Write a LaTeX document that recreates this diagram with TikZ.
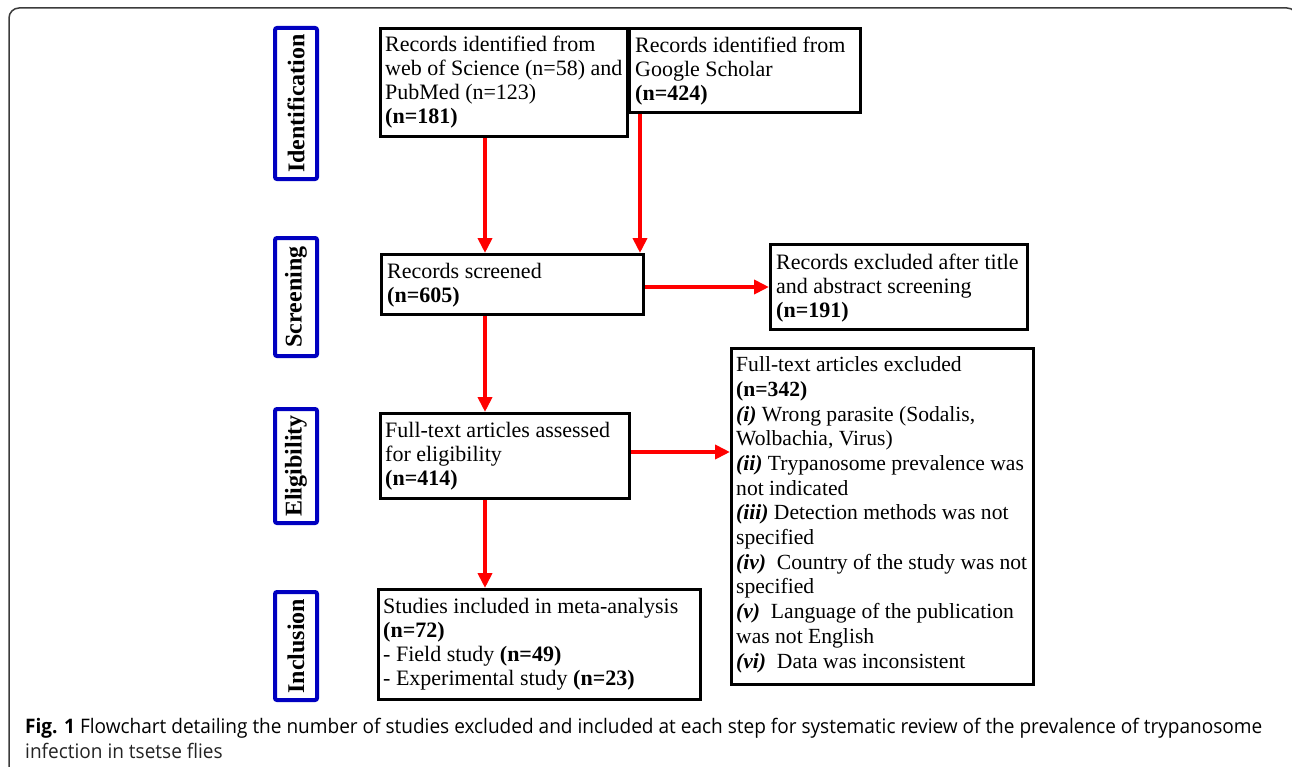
\documentclass[tikz,border=0pt]{standalone}
\usepackage{fontspec}
\setmainfont{Liberation Serif}
\newfontfamily\capfont{Open Sans}
\usetikzlibrary{arrows.meta}
\definecolor{stageblue}{RGB}{0,0,192}
\definecolor{framegray}{RGB}{60,60,60}
\definecolor{captext}{RGB}{35,35,35}
\newsavebox\caplineA
\newlength\caplineAwd
\tikzset{
  box/.style={draw=black, line width=3bp, anchor=north west, inner sep=0pt, fill=white},
  txt/.style={anchor=base west, align=left, inner sep=0pt, font=\fontsize{22bp}{24bp}\selectfont},
  txtwide/.style={txt, font=\fontsize{21.6bp}{24.7bp}\selectfont},
  stage/.style={draw=stageblue, line width=4bp, rounded corners=2bp, anchor=north west, inner sep=0pt, minimum width=42bp},
  stagetxt/.style={rotate=90, inner sep=0pt, font=\bfseries\fontsize{24bp}{26bp}\selectfont},
  arr/.style={draw=red, line width=4bp, -{Triangle[length=15bp,width=14bp]}},
  capt/.style={anchor=base west, inner sep=0pt, text=captext},
}
\begin{document}
\sbox\caplineA{\capfont\fontsize{20bp}{25bp}\selectfont\textbf{Fig. 1} Flowchart detailing the number of studies excluded and included at each step for systematic review of the prevalence of trypanosome}%
\setlength\caplineAwd{\wd\caplineA}%
\pgfmathsetmacro\capratio{1237bp/\caplineAwd}%
\begin{tikzpicture}[x=1bp,y=-1bp]
\useasboundingbox (0,0) rectangle (1292,767);
\begin{scope}
\clip (0,0) rectangle (1292,767);
\draw[framegray, line width=1.5bp, rounded corners=10bp] (9,790) -- (9,8) -- (1297,8) -- (1297,790);
\end{scope}

% stage labels
\node[stage, minimum height=151bp] (sid) at (273,26) {};
\node[stagetxt] (sidt) at (sid.center) {Identification};
\node[stage, minimum height=118bp] (ssc) at (273,236) {};
\node[stagetxt] (ssct) at (ssc.center) {Screening};
\node[stage, minimum height=114bp] (sel) at (273,407) {};
\node[stagetxt] (selt) at (sel.center) {Eligibility};
\node[stage, minimum height=108bp] (sin) at (273,590) {};
\node[stagetxt] (sint) at (sin.center) {Inclusion};

% boxes (text nodes placed by the baseline of their last line)
\node[box, minimum width=247bp, minimum height=108bp] (b1) at (379,27) {};
\node[txt] (b1t) at (385,124) {Records identified from\\web of Science (n=58) and\\PubMed (n=123)\\\textbf{(n=181)}};

\node[box, minimum width=231bp, minimum height=84bp] (b2) at (628,27) {};
\node[txt] (b2t) at (635,101) {Records identified from\\Google Scholar\\\textbf{(n=424)}};

\node[box, minimum width=262bp, minimum height=60bp] (scr) at (380,253) {};
\node[txt] (scrt) at (387,302) {Records screened\\\textbf{(n=605)}};

\node[box, minimum width=257bp, minimum height=85bp] (exc) at (769,243) {};
\node[txt] (exct) at (776,317) {Records excluded after title\\and abstract screening\\\textbf{(n=191)}};

\node[box, minimum width=249bp, minimum height=85bp] (elig) at (379,412) {};
\node[txt] (eligt) at (385,485) {Full-text articles assessed\\for eligibility\\\textbf{(n=414)}};

\node[box, minimum width=302bp, minimum height=336bp] (full) at (730,347) {};
\node[txtwide] (fullt) at (736,668) {Full-text articles excluded\\\textbf{(n=342)}\\\textbf{\textit{(i)}} Wrong parasite (Sodalis,\\Wolbachia, Virus)\\\textbf{\textit{(ii)}} Trypanosome prevalence was\\not indicated\\\textbf{\textit{(iii)}} Detection methods was not\\specified\\\textbf{\textit{(iv)}}\ \ Country of the study was not\\specified\\\textbf{\textit{(v)}}\ \ Language of the publication\\was not English\\\textbf{\textit{(vi)}}\ \ Data was inconsistent};

\node[box, minimum width=322bp, minimum height=110bp] (inc) at (377,588) {};
\node[txt] (inct) at (383,685) {Studies included in meta-analysis\\\textbf{(n=72)}\\- Field study \textbf{(n=49)}\\- Experimental study \textbf{(n=23)}};

% connector guide coordinates
\coordinate (cx1) at (485,0);
\coordinate (cx2) at (640,0);
\coordinate (cy1) at (0,287);
\coordinate (cy2) at (0,452);

\draw[arr] (b1.south -| cx1) -- (scr.north -| cx1);
\draw[arr] (b2.south -| cx2) -- (scr.north -| cx2);
\draw[arr] (scr.east |- cy1) -- (exc.west |- cy1);
\draw[arr] (scr.south -| cx1) -- (elig.north -| cx1);
\draw[arr] (elig.east |- cy2) -- (full.west |- cy2);
\draw[arr] (elig.south -| cx1) -- (inc.north -| cx1);

% caption
\node[capt] (cap1) at (25,733) {\scalebox{\capratio}[1]{\usebox\caplineA}};
\node[capt] (cap2) at (25,758) {\scalebox{\capratio}[1]{\capfont\fontsize{20bp}{25bp}\selectfont infection in tsetse flies}};
\end{tikzpicture}
\end{document}
